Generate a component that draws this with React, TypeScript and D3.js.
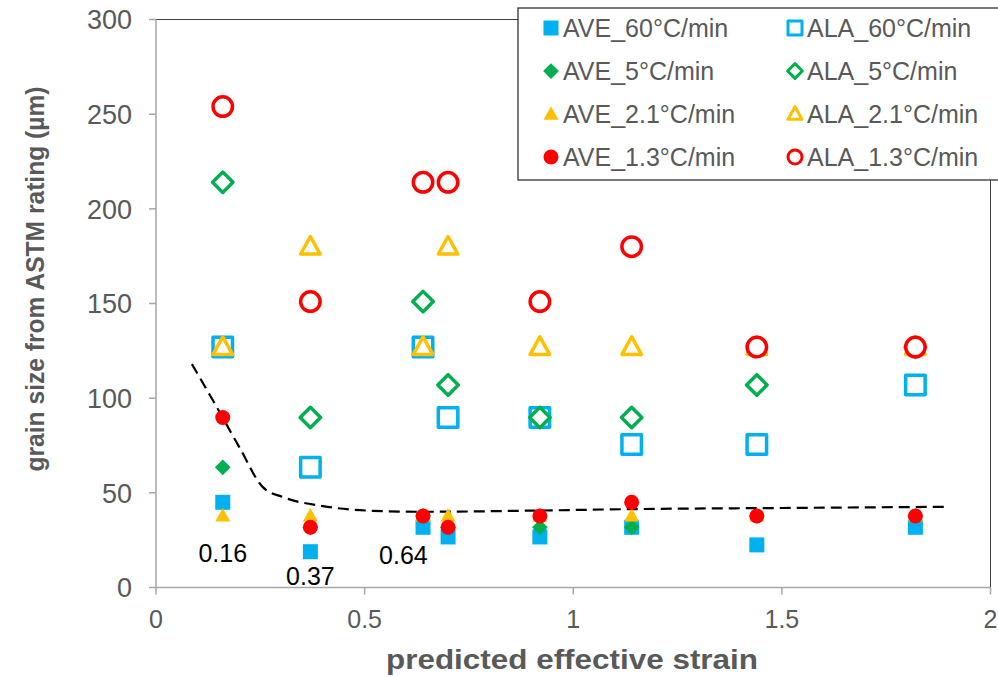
import React from "react"
import * as d3 from "d3"

// strain positions (x) shared by all series
const strains = [0.16, 0.37, 0.64, 0.70, 0.92, 1.14, 1.44, 1.82]

// grain size values (µm, ASTM half-grade diameters)
const ave60 = [45, 18.9, 31.8, 26.7, 26.7, 31.8, 22.5, 31.8]
const ave5 = [63.5, 31.8, 37.8, 31.8, 31.8, 31.8, 37.8, 37.8]
const ave21 = [37.8, 37.8, 37.8, 37.8, 37.8, 37.8, 37.8, 37.8]
const ave13 = [89.8, 31.8, 37.8, 31.8, 37.8, 45, 37.8, 37.8]
const ala60 = [127, 63.5, 127, 89.8, 89.8, 75.5, 75.5, 107]
const ala5 = [214, 89.8, 151, 107, 89.8, 89.8, 107, 127]
const ala21 = [127, 180, 127, 180, 127, 127, 127, 127]
const ala13 = [254, 151, 214, 214, 151, 180, 127, 127]

// dashed trend curve
const trendX = [0.086, 0.137, 0.2, 0.256, 0.305, 0.4, 0.52, 0.64, 0.9, 1.14, 1.5, 1.82, 1.89]
const trendY = [118, 98.6, 74, 53, 47.7, 43, 40.5, 40, 40.6, 41.4, 42, 42.5, 42.6]

const notes = [
  { text: "0.16", x: 0.16, y: 18 },
  { text: "0.37", x: 0.37, y: 6 },
  { text: "0.64", x: 0.593, y: 17 },
]

const xTicks = [0, 0.5, 1, 1.5, 2]
const yTicks = [0, 50, 100, 150, 200, 250, 300]

const BLUE = "#00B0F0"
const GREEN = "#00B050"
const YELLOW = "#FFC000"
const RED = "#FF0000"

const series = [
  { name: "AVE_60°C/min", values: ave60, shape: "square", color: BLUE, open: false },
  { name: "AVE_5°C/min", values: ave5, shape: "diamond", color: GREEN, open: false },
  { name: "AVE_2.1°C/min", values: ave21, shape: "triangle", color: YELLOW, open: false },
  { name: "AVE_1.3°C/min", values: ave13, shape: "circle", color: RED, open: false },
  { name: "ALA_60°C/min", values: ala60, shape: "square", color: BLUE, open: true },
  { name: "ALA_5°C/min", values: ala5, shape: "diamond", color: GREEN, open: true },
  { name: "ALA_2.1°C/min", values: ala21, shape: "triangle", color: YELLOW, open: true },
  { name: "ALA_1.3°C/min", values: ala13, shape: "circle", color: RED, open: true },
]

const FONT = "'Liberation Sans', Arial, sans-serif"

// s = full width of the marker
function Marker({ shape, cx, cy, s, color, open, sw = 3.5 }: any) {
  const h = open ? (s - sw) / 2 : s / 2
  const fill = open ? "white" : color
  const stroke = open ? color : "none"
  const common = { fill, stroke, strokeWidth: open ? sw : 0, strokeLinejoin: "round" as const }
  if (shape === "square") {
    return <rect x={cx - h} y={cy - h} width={2 * h} height={2 * h} {...common} />
  }
  if (shape === "circle") {
    return <circle cx={cx} cy={cy} r={h} {...common} />
  }
  if (shape === "diamond") {
    const d = h * 1.05
    return <path d={`M${cx},${cy - d}L${cx + d},${cy}L${cx},${cy + d}L${cx - d},${cy}Z`} {...common} />
  }
  // triangle
  const th = h * 1.8
  return (
    <path
      d={`M${cx},${cy - th * 0.58}L${cx + h},${cy + th * 0.42}L${cx - h},${cy + th * 0.42}Z`}
      {...common}
    />
  )
}

const App = () => {
  const width = 998
  const height = 677
  const x = d3.scaleLinear().domain([0, 2]).range([156, 990.5])
  const y = d3.scaleLinear().domain([0, 300]).range([587.5, 19.5])

  const line = d3
    .line<number>()
    .curve(d3.curveMonotoneX)
    .x((d, i) => x(trendX[i]))
    .y((d) => y(d))

  const gray = "#A6A6A6"
  const textGray = "#595959"

  return (
    <svg width={width} height={height} style={{ position: "absolute", left: 0, top: 0, background: "white" }}>
      <rect x={0} y={0} width={width} height={height} fill="white" />

      {/* plot frame top/right */}
      <line x1={x(0)} x2={x(2)} y1={y(300)} y2={y(300)} stroke="#404040" strokeWidth={1} />
      <line x1={x(2)} x2={x(2)} y1={y(300)} y2={y(0)} stroke="#404040" strokeWidth={1} />

      {/* axes */}
      <line x1={x(0)} x2={x(0)} y1={y(300)} y2={y(0)} stroke={gray} strokeWidth={1.5} />
      <line x1={x(0)} x2={x(2)} y1={y(0)} y2={y(0)} stroke={gray} strokeWidth={1.5} />
      {yTicks.map((t) => (
        <g key={"y" + t}>
          <line x1={x(0) - 7} x2={x(0)} y1={y(t)} y2={y(t)} stroke={gray} strokeWidth={1.5} />
          <text x={132} y={y(t)} dy="0.36em" textAnchor="end" fontFamily={FONT} fontSize={27} fill={textGray}>
            {t}
          </text>
        </g>
      ))}
      {xTicks.map((t) => (
        <g key={"x" + t}>
          <line x1={x(t)} x2={x(t)} y1={y(0)} y2={y(0) + 7} stroke={gray} strokeWidth={1.5} />
          <text x={x(t)} y={619} dy="0.36em" textAnchor="middle" fontFamily={FONT} fontSize={25} fill={textGray}>
            {t}
          </text>
        </g>
      ))}

      <text
        x={572}
        y={669}
        textAnchor="middle"
        fontFamily={FONT}
        fontSize={28}
        fontWeight="bold"
        fill={textGray}
        textLength={372}
        lengthAdjust="spacingAndGlyphs"
      >
        predicted effective strain
      </text>
      <text
        transform={`translate(44,279) rotate(-90)`}
        textAnchor="middle"
        fontFamily={FONT}
        fontSize={26}
        fontWeight="bold"
        fill={textGray}
        textLength={385}
        lengthAdjust="spacingAndGlyphs"
      >
        grain size from ASTM rating (µm)
      </text>

      {/* trend line */}
      <path d={line(trendY) || ""} fill="none" stroke="black" strokeWidth={2.2} strokeDasharray="11,6" />

      {/* series */}
      {series.map((sr) => (
        <g key={sr.name}>
          {sr.values.map((v, i) => (
            <Marker
              key={i}
              shape={sr.shape}
              cx={x(strains[i])}
              cy={y(v)}
              s={sr.open ? 23 : 15}
              color={sr.color}
              open={sr.open}
            />
          ))}
        </g>
      ))}

      {/* annotations */}
      {notes.map((n) => (
        <text key={n.text} x={x(n.x)} y={y(n.y)} dy="0.36em" textAnchor="middle" fontFamily={FONT} fontSize={25} fill="black">
          {n.text}
        </text>
      ))}

      {/* legend */}
      <rect x={518} y={8} width={485} height={172} fill="white" stroke="#222" strokeWidth={1.2} />
      {series.map((sr, i) => {
        const col = i < 4 ? 0 : 1
        const row = i % 4
        const mx = col === 0 ? 551 : 795
        const my = 28 + row * 43
        return (
          <g key={"lg" + sr.name}>
            <Marker shape={sr.shape} cx={mx} cy={my} s={sr.open ? 17 : 15} color={sr.color} open={sr.open} sw={3} />
            <text x={mx + 12} y={my} dy="0.36em" fontFamily={FONT} fontSize={25} fill={textGray}>
              {sr.name}
            </text>
          </g>
        )
      })}
    </svg>
  )
}

export default App
